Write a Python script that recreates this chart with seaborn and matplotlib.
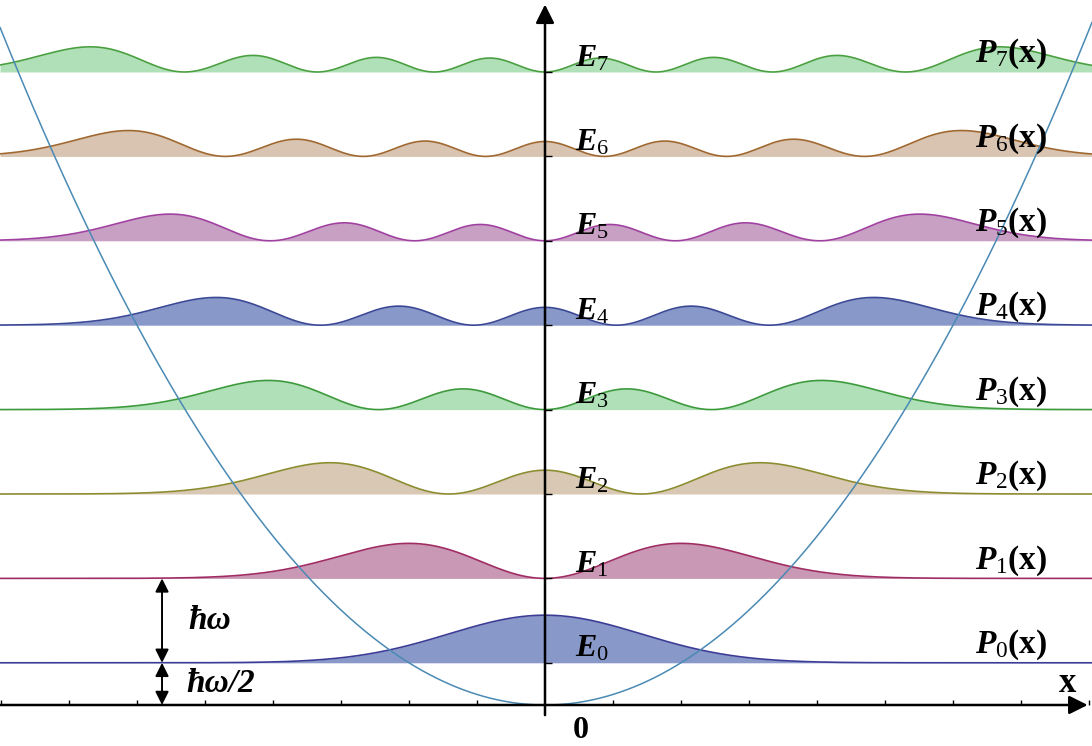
import math
import numpy as np
import pandas as pd
import matplotlib
matplotlib.use("Agg")
import matplotlib.pyplot as plt
import seaborn as sns
from numpy.polynomial import hermite

# quantum numbers and energy levels (units of hbar*omega)
levels = [0, 1, 2, 3, 4, 5, 6, 7]
energies = [n + 0.5 for n in levels]
e_labels = [f"$E_{{{n}}}$" for n in levels]
p_labels = [f"$P_{{{n}}}\\mathbf{{(x)}}$" for n in levels]
x_ticks = [k * 0.5 for k in range(-8, 9)]

line_colors = ['#3c3c96', '#a02c64', '#8c8c30', '#3c9a3c',
               '#3a4896', '#a040a0', '#a06830', '#4aa040']
fill_colors = ['#8898c8', '#c898b4', '#d8c8b4', '#b0e0b8',
               '#8898c8', '#c8a0c4', '#d8c4b0', '#b0e0b8']

x_min, x_max = -545 / 136, (1092 - 545) / 136
y_min, y_max = (705 - 746) / 84.4, 705 / 84.4


def density(n, x):
    # |psi_n(x)|^2 for the harmonic oscillator
    c = np.zeros(n + 1)
    c[n] = 1
    norm = 1.0 / math.sqrt(2 ** n * math.factorial(n) * math.sqrt(math.pi))
    psi = norm * hermite.hermval(x, c) * np.exp(-x ** 2 / 2)
    return psi ** 2


sns.set_style("white")
plt.rcParams['font.family'] = ['Liberation Serif', 'DejaVu Serif']
plt.rcParams['text.color'] = 'black'
plt.rcParams['mathtext.fontset'] = 'custom'
plt.rcParams['mathtext.rm'] = 'Liberation Serif'
plt.rcParams['mathtext.it'] = 'Liberation Serif:italic:bold'
plt.rcParams['mathtext.bf'] = 'Liberation Serif:bold'

fig = plt.figure(figsize=(10.92, 7.46), dpi=100)
ax = fig.add_axes([0, 0, 1, 1])

xs = np.linspace(x_min, x_max, 800)
for n, e in zip(levels, energies):
    df = pd.DataFrame({'x': xs, 'y': e + density(n, xs)})
    ax.fill_between(df['x'], e, df['y'], color=fill_colors[n], lw=0, zorder=2)
    sns.lineplot(data=df, x='x', y='y', color=line_colors[n], lw=1.2,
                 ax=ax, zorder=3)

# potential well
pot = pd.DataFrame({'x': xs, 'V': xs ** 2 / 2})
sns.lineplot(data=pot, x='x', y='V', color='#4a8ab4', lw=1.1, ax=ax, zorder=4)

# axes with arrows
ax.annotate('', xy=(3.99, 0), xytext=(x_min, 0),
            arrowprops=dict(arrowstyle='-|>', mutation_scale=28, lw=1.8,
                            color='black', shrinkA=0, shrinkB=0), zorder=6)
ax.annotate('', xy=(0, 8.3), xytext=(0, -0.12),
            arrowprops=dict(arrowstyle='-|>', mutation_scale=28, lw=1.8,
                            color='black', shrinkA=0, shrinkB=0), zorder=6)
ax.vlines([t for t in x_ticks if t != 0], 0, 0.06, color='black', lw=1, zorder=6)
ax.hlines(energies, 0, 0.05, color='black', lw=1, zorder=6)

# hbar omega spacing arrows
ax.annotate('', xy=(-2.816, energies[1]), xytext=(-2.816, energies[0]),
            arrowprops=dict(arrowstyle='<|-|>', mutation_scale=20, lw=1.4,
                            color='black', shrinkA=0, shrinkB=0), zorder=6)
ax.annotate('', xy=(-2.816, energies[0]), xytext=(-2.816, 0),
            arrowprops=dict(arrowstyle='<|-|>', mutation_scale=20, lw=1.4,
                            color='black', shrinkA=0, shrinkB=0), zorder=6)
ax.text(-2.62, 1.0, 'ħω', fontsize=24, fontweight='bold', fontstyle='italic',
        va='center', ha='left', zorder=7)
ax.text(-2.64, 0.26, 'ħω/2', fontsize=24, fontweight='bold', fontstyle='italic',
        va='center', ha='left', zorder=7)

for n, e in zip(levels, energies):
    ax.text(0.22, e + 0.07, e_labels[n], fontsize=23, va='baseline',
            ha='left', zorder=7)
    ax.text(3.16, e + 0.12, p_labels[n], fontsize=24, va='baseline',
            ha='left', zorder=7)

ax.text(0.26, -0.30, '0', fontsize=23, fontweight='bold', va='center',
        ha='center')
ax.text(3.84, 0.26, 'x', fontsize=25, fontweight='bold', va='center',
        ha='center')

ax.set_xlim(x_min, x_max)
ax.set_ylim(y_min, y_max)
ax.set_axis_off()

fig.savefig('out.png', dpi=100)
